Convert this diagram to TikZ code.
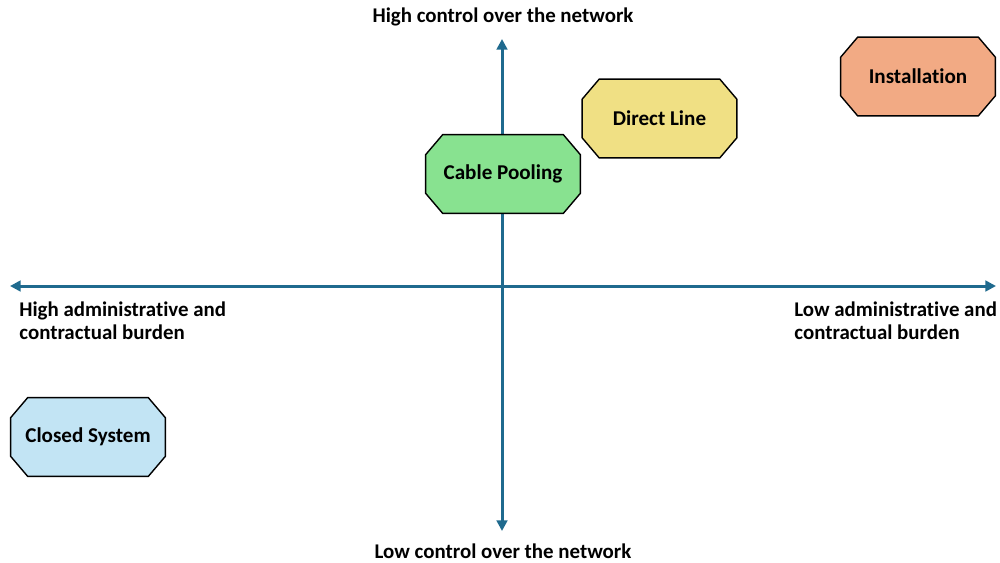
\documentclass[tikz,border=0pt]{standalone}
\usepackage{fontspec}
\setmainfont{Carlito}[Ligatures=NoCommon]
\usetikzlibrary{arrows.meta,calc,backgrounds}
\definecolor{axiscol}{HTML}{1F6A8E}
\definecolor{greenfill}{HTML}{88E290}
\definecolor{yellowfill}{HTML}{F0E084}
\definecolor{orangefill}{HTML}{F2AA84}
\definecolor{bluefill}{HTML}{C2E4F4}
\tikzset{
  axisline/.style={draw=axiscol, line width=1.7pt, {Triangle[width=6pt,length=6pt]}-{Triangle[width=6pt,length=6pt]}},
  octbox/.style={rectangle, minimum width=3.08cm, minimum height=1.56cm, inner sep=0pt,
    font=\fontsize{12}{14}\selectfont\bfseries},
  octline/.style={draw=black, line width=0.8pt, line join=miter},
  lbl/.style={font=\fontsize{11.9}{13}\selectfont\bfseries, inner sep=0pt}
}
\newcommand\octshape[2]{%
  \filldraw[octline, fill=#2]
    ($(#1.north west)+(17,0)$) -- ($(#1.north east)+(-17,0)$) -- ($(#1.north east)+(0,20)$) --
    ($(#1.south east)+(0,-20)$) -- ($(#1.south east)+(-17,0)$) -- ($(#1.south west)+(17,0)$) --
    ($(#1.south west)+(0,-20)$) -- ($(#1.north west)+(0,20)$) -- cycle;}
\begin{document}
\begin{tikzpicture}[x={(0.02cm,0)}, y={(0,-0.02cm)}]
\useasboundingbox (0,0) rectangle (1000,562);
\coordinate (L) at (10,286);
\coordinate (R) at (996,286);
\coordinate (T) at (502,39);
\coordinate (B) at (502,531);
\node[octbox] (cable) at (503,174) {Cable Pooling};
\node[octbox] (direct) at (659.5,118.5) {Direct Line};
\node[octbox] (inst) at (918,76.5) {Installation};
\node[octbox] (closed) at (88,437) {Closed System};
\begin{scope}[on background layer]
\draw[axisline] (L) -- (R);
\draw[axisline] (B) -- (T);
\octshape{cable}{greenfill}
\octshape{direct}{yellowfill}
\octshape{inst}{orangefill}
\octshape{closed}{bluefill}
\end{scope}
\node[lbl] (top) at (503,17) {High control over the network};
\node[lbl] (bot) at (503,551) {Low control over the network};
\node[lbl, anchor=west, align=left] (left) at (19,321) {High administrative and\\contractual burden};
\node[lbl, anchor=west, align=left] (right) at (794,321) {Low administrative and\\contractual burden};
\end{tikzpicture}
\end{document}
